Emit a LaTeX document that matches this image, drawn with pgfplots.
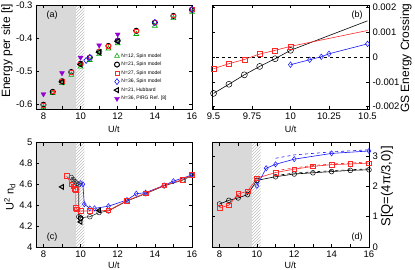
\documentclass[border=0pt]{standalone}
\usepackage{fontspec}
\setmainfont{Liberation Sans}
\usepackage{pgfplots}
\pgfplotsset{compat=1.18}
\usetikzlibrary{patterns}
\definecolor{cgreen}{RGB}{0,170,0}
\definecolor{cred}{RGB}{255,40,40}
\definecolor{cblue}{RGB}{20,20,255}
\definecolor{cpurple}{RGB}{148,0,211}
\definecolor{shade}{RGB}{217,217,217}
\definecolor{hatch}{RGB}{190,190,190}
\newcommand\tfont{\fontsize{9.5}{11}\selectfont}
\pgfplotsset{
  panel/.style={
    scale only axis, anchor=south west,
    axis on top, clip=true,
    tick align=inside, tick pos=both,
    major tick length=3pt, minor tick length=1.5pt,
    /pgf/number format/assume math mode=true,
    tick label style={font=\tfont},
    xlabel style={font=\fontsize{9}{10}\selectfont},
    axis line style={line width=0.6pt},
    every tick/.style={line width=0.5pt},
    scaled ticks=false,
  },
  xU/.style={xmin=7.6, xmax=16, xtick={8,...,16}, xticklabels={8,,10,,12,,14,,16}, xlabel={U/t}},
}
\begin{document}
\begin{tikzpicture}
\path[use as bounding box] (0,0) rectangle (415pt,269pt);
% ---------------- (a)
\begin{axis}[panel, xU, at={(36pt,160pt)}, width=156pt, height=104pt,
  ymin=-0.615, ymax=-0.3,
  ytick={-0.6,-0.5,-0.4,-0.3}, yticklabels={-0.6,-0.5,-0.4,-0.3},
  ylabel={Energy per site [t]},
  ylabel style={font=\fontsize{12}{14}\selectfont, at={(axis description cs:-0.186,0.56)}, anchor=center},
  legend style={at={(axis description cs:0.5,0.555)}, anchor=north west, draw=none, fill=none,
    font=\fontsize{5}{6}\selectfont, row sep=-0.6pt, inner sep=0pt, cells={anchor=west, inner sep=0.8pt}},
  legend image code/.code={\draw[mark repeat=2,mark phase=2,#1] plot coordinates {(0pt,0pt)(3.5pt,0pt)(7pt,0pt)};},
]
\addplot[draw=none, fill=shade, forget plot] coordinates {(7,-1)(9.75,-1)(9.75,0)(7,0)} -- cycle;
\addplot[draw=none, pattern=north east lines, pattern color=hatch, forget plot] coordinates {(9.75,-1)(10.2,-1)(10.2,0)(9.75,0)} -- cycle;
\addplot[only marks, cgreen, mark=triangle, mark size=2.8pt, mark options={line width=0.6pt}] coordinates {
(8,-0.610)(8.5,-0.567)(9,-0.537)(9.5,-0.512)(10,-0.487)(10.5,-0.467)(11,-0.449)(11.5,-0.432)(12,-0.416)(13,-0.388)(14,-0.363)(15,-0.340)(16,-0.321)};
\addlegendentry{N=12, Spin model}
\addplot[only marks, black, mark=o, mark size=2.5pt, mark options={line width=1pt}] coordinates {
(8,-0.602)(8.5,-0.563)(9,-0.531)(9.5,-0.503)(10,-0.478)(10.5,-0.459)(11,-0.441)(11.5,-0.424)(12,-0.408)(13,-0.378)(14,-0.353)(15,-0.333)(16,-0.314)};
\addlegendentry{N=21, Spin model}
\addplot[only marks, cred, mark=square, mark size=1.9pt, mark options={line width=0.6pt}] coordinates {
(8,-0.603)(8.5,-0.563)(9,-0.532)(9.5,-0.503)(10,-0.478)(10.5,-0.459)(11,-0.441)(11.5,-0.424)(12,-0.407)(13,-0.378)(14,-0.353)(15,-0.333)(16,-0.313)};
\addlegendentry{N=27, Spin model}
\addplot[only marks, cblue, mark=diamond, mark size=3pt, mark options={line width=0.6pt}] coordinates {
(10.3,-0.468)(10.5,-0.459)(12,-0.408)(14,-0.353)(16,-0.313)};
\addlegendentry{N=36, Spin model}
\addplot[only marks, black, mark=triangle, mark size=2.8pt, mark options={rotate=90, line width=1pt}] coordinates {
(9,-0.533)(10,-0.480)(11,-0.443)(12,-0.410)};
\addlegendentry{N=21, Hubbard}
\addplot[only marks, cpurple, mark=triangle*, mark size=2.8pt, mark options={rotate=180}] coordinates {
(8,-0.570)(9,-0.506)(10,-0.459)(11,-0.422)(12,-0.389)};
\addlegendentry{N=36, PIRG Ref. [8]}
\node[font=\fontsize{9}{10}\selectfont] at (rel axis cs:0.103,0.9) {(a)};
\end{axis}
% ---------------- (b)
\begin{axis}[panel, at={(212pt,160pt)}, width=157pt, height=104pt,
  xmin=9.49, xmax=10.51, ymin=-0.0021, ymax=0.0021,
  xtick={9.5,9.75,10,10.25,10.5}, xticklabels={9.5,9.75,10,10.25,10.5}, xlabel={U/t},
  ytick={-0.002,-0.001,0,0.001,0.002}, yticklabels={-0.002,-0.001,0,0.001,0.002},
  yticklabel pos=right,
  ylabel={GS Energy Crossing},
  ylabel style={font=\fontsize{12}{14}\selectfont, at={(axis description cs:1.236,0.49)}, anchor=center},
]
\addplot[black, dashed, line width=0.5pt] coordinates {(9.4,0)(10.6,0)};
\addplot[black, line width=0.6pt] coordinates {(10,0.00027)(10.5,0.00146)};
\addplot[cred, line width=0.6pt] coordinates {(10,0.00043)(10.5,0.00107)};
\addplot[black, line width=0.6pt, mark=o, mark size=3pt, mark options={line width=0.5pt}] coordinates {
(9.5,-0.00147)(9.6,-0.0011)(9.7,-0.00072)(9.8,-0.00038)(9.9,-0.00007)(10,0.00027)};
\addplot[cred, line width=0.6pt, mark=square, mark size=2.5pt, mark options={line width=0.5pt}] coordinates {
(9.5,-0.00047)(9.6,-0.00027)(9.7,-0.0001)(9.8,0.00012)(9.9,0.00027)(10,0.00043)};
\addplot[cblue, line width=0.6pt, mark=diamond, mark size=2.8pt, mark options={line width=0.5pt}] coordinates {
(10,-0.00031)(10.125,-0.00011)(10.2,0.00001)(10.25,0.00013)(10.5,0.00053)};
\node[font=\fontsize{9}{10}\selectfont] at (rel axis cs:0.924,0.9) {(b)};
\end{axis}
% ---------------- (c)
\begin{axis}[panel, xU, at={(36pt,22pt)}, width=156pt, height=104.5pt,
  ymin=4, ymax=5,
  ytick={4,4.2,4.4,4.6,4.8,5}, yticklabels={4,4.2,4.4,4.6,4.8,5},
  xlabel style={yshift=2pt},
  ylabel={U\textsuperscript{2} n\textsubscript{d}},
  ylabel style={font=\fontsize{11}{13}\selectfont, at={(axis description cs:-0.167,0.48)}, anchor=center},
]
\addplot[draw=none, fill=shade, forget plot] coordinates {(7,3)(9.75,3)(9.75,6)(7,6)} -- cycle;
\addplot[draw=none, pattern=north east lines, pattern color=hatch, forget plot] coordinates {(9.75,3)(10.2,3)(10.2,6)(9.75,6)} -- cycle;
\addplot[black!85, line width=0.6pt, mark=o, mark size=2.4pt, mark options={line width=0.5pt}] coordinates {
(9.5,4.665)(9.6,4.645)(9.7,4.625)(9.8,4.61)(9.9,4.595)(9.9,4.29)(10.0,4.28)(10.5,4.29)(11,4.33)(11.5,4.345)(12.5,4.44)(13.5,4.51)(14.5,4.585)(15.5,4.64)(16,4.685)};
\addplot[cblue, line width=0.6pt, mark=diamond, mark size=2.6pt, mark options={line width=0.5pt}] coordinates {
(10.0,4.61)(10.125,4.60)(10.2,4.41)(10.5,4.37)(10.75,4.37)(11.5,4.39)(12.5,4.45)(13,4.51)(13.5,4.52)(14.5,4.59)(15,4.63)(16,4.69)};
\addplot[cred, line width=0.6pt, mark=square, mark size=2.3pt, mark options={line width=0.5pt}] coordinates {
(9.25,4.68)(9.5,4.60)(9.6,4.58)(9.7,4.555)(9.75,4.55)(9.75,4.375)(9.8,4.36)(10,4.345)(10.5,4.345)(11.5,4.35)(12.5,4.445)(13.5,4.515)(14.5,4.59)(15.5,4.645)(16,4.69)};
\addplot[only marks, black, mark=triangle, mark size=2.6pt, mark options={rotate=90, line width=1pt}] coordinates {
(9,4.575)(10,4.24)(11,4.35)};
\addplot[only marks, black, mark=o, mark size=2.4pt, mark options={line width=1pt}] coordinates {(10,4.275)};
\node[font=\fontsize{9}{10}\selectfont] at (rel axis cs:0.103,0.09) {(c)};
\end{axis}
% ---------------- (d)
\begin{axis}[panel, xU, at={(212pt,22pt)}, width=157pt, height=104.5pt,
  ymin=0, ymax=3.45,
  ytick={0,1,2,3}, yticklabels={0,1,2,3},
  yticklabel pos=right,
  xlabel style={yshift=2pt},
  ylabel={S[Q=(4π/3,0)]},
  ylabel style={font=\fontsize{13}{15}\selectfont, at={(axis description cs:1.115,0.58)}, anchor=center},
]
\addplot[draw=none, fill=shade, forget plot] coordinates {(7,-1)(9.75,-1)(9.75,5)(7,5)} -- cycle;
\addplot[draw=none, pattern=north east lines, pattern color=hatch, forget plot] coordinates {(9.75,-1)(10.2,-1)(10.2,5)(9.75,5)} -- cycle;
\addplot[black, dashed, line width=0.6pt] coordinates {(11,2.36)(12,2.44)(13,2.48)(14,2.52)(15,2.55)(16,2.58)};
\addplot[cred, dashed, line width=0.6pt] coordinates {(11,2.52)(12,2.61)(13,2.69)(14,2.74)(15,2.77)(16,2.81)};
\addplot[cblue, dashed, line width=0.6pt] coordinates {(11,2.93)(12,3.04)(14,3.14)(16,3.21)};
\addplot[black, line width=0.6pt, mark=o, mark size=2.4pt, mark options={line width=0.5pt}] coordinates {
(8,1.42)(8.5,1.54)(9,1.62)(9.5,1.73)(10,2.2)(11,2.32)(12,2.41)(13,2.45)(14,2.49)(15,2.53)(16,2.55)};
\addplot[cred, line width=0.6pt, mark=square, mark size=2.3pt, mark options={line width=0.5pt}] coordinates {
(8,1.29)(8.5,1.38)(9,1.75)(9.5,1.84)(10,2.27)(11,2.46)(12,2.57)(13,2.66)(14,2.72)(15,2.74)(16,2.77)};
\addplot[cblue, line width=0.6pt, mark=diamond, mark size=2.6pt, mark options={line width=0.5pt}] coordinates {
(10,2.02)(10.5,2.6)(11,2.73)(12,2.9)(14,3.09)(16,3.17)};
\node[font=\fontsize{9}{10}\selectfont] at (rel axis cs:0.924,0.09) {(d)};
\end{axis}
\end{tikzpicture}
\end{document}
